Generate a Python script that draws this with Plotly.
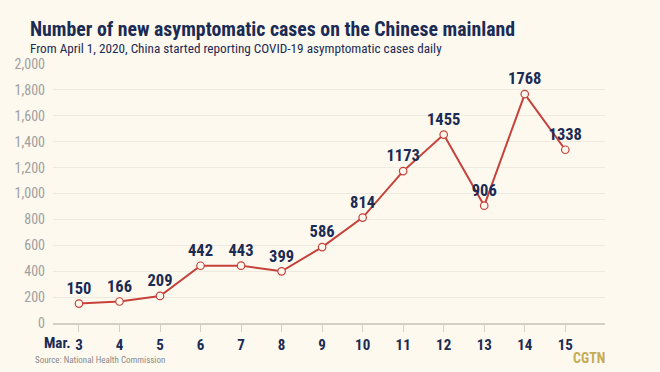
import plotly.graph_objects as go

days = [3, 4, 5, 6, 7, 8, 9, 10, 11, 12, 13, 14, 15]
day_labels = ["3", "4", "5", "6", "7", "8", "9", "10", "11", "12", "13", "14", "15"]
month_label = "Mar."
cases = [150, 166, 209, 442, 443, 399, 586, 814, 1173, 1455, 906, 1768, 1338]
y_ticks = [0, 200, 400, 600, 800, 1000, 1200, 1400, 1600, 1800, 2000]

BG = "#fdf9ef"
NAVY = "#1b2b54"
RED = "#c5413a"
FONT = "Roboto Condensed, DejaVu Sans Condensed, sans-serif"

W, H = 660, 372
L, R, T, B = 53, 55, 64, 49
PW, PH = W - L - R, H - T - B

fig = go.Figure()
fig.add_trace(go.Scatter(
    x=days, y=cases, mode="lines+markers+text",
    line=dict(color=RED, width=2),
    marker=dict(size=7.5, color=BG, line=dict(color=RED, width=1.2)),
    text=[str(v) for v in cases], textposition="top center",
    textfont=dict(family=FONT, size=16.5, color=NAVY, weight="bold"),
    cliponaxis=False, hoverinfo="skip",
))

fig.update_layout(
    width=W, height=H,
    paper_bgcolor=BG, plot_bgcolor=BG,
    margin=dict(l=L, r=R, t=T, b=B),
    showlegend=False,
    font=dict(family=FONT),
    xaxis=dict(
        range=[2.36, 15.98], tickvals=days, ticktext=day_labels,
        showgrid=False, zeroline=False, fixedrange=True,
        showline=True, linecolor="#d3d0c8", linewidth=2,
        ticks="outside", ticklen=7, tickcolor="#d3d0c8", tickwidth=1,
        tickfont=dict(family=FONT, size=15, color=NAVY, weight="bold"),
        ticklabelstandoff=0,
    ),
    yaxis=dict(
        range=[0, 2000], tickvals=y_ticks, tickformat=",", fixedrange=True,
        showgrid=True, gridcolor="#eeeadf", gridwidth=1,
        zeroline=False, showline=False,
        tickfont=dict(family=FONT, size=14, color="#a0a0a0"),
        ticklabelstandoff=7,
    ),
)


def px(x):
    return (x - L) / PW


def py(y):
    return (H - B - y) / PH


fig.add_annotation(
    x=px(28), y=py(29), xref="paper", yref="paper", xanchor="left", yanchor="middle",
    text="<b>Number of new asymptomatic cases on the Chinese mainland</b>",
    font=dict(family=FONT, size=19.8, color=NAVY), showarrow=False,
)
fig.add_annotation(
    x=px(28), y=py(48.5), xref="paper", yref="paper", xanchor="left", yanchor="middle",
    text="From April 1, 2020, China started reporting COVID-19 asymptomatic cases daily",
    font=dict(family=FONT, size=13.2, color=NAVY), showarrow=False,
)
fig.add_annotation(
    x=days[0], xref="x", y=py(343), yref="paper", xanchor="right", yanchor="middle",
    xshift=-6, text="<b>" + month_label + "</b>", showarrow=False,
    font=dict(family=FONT, size=15, color=NAVY),
)
fig.add_annotation(
    x=px(33), y=py(360), xref="paper", yref="paper", xanchor="left", yanchor="middle",
    text="Source: National Health Commission", showarrow=False,
    font=dict(family=FONT, size=9, color="#8a8a8a"),
)
fig.add_annotation(
    x=px(607), y=py(358), xref="paper", yref="paper", xanchor="right", yanchor="middle",
    text="<b>CGTN</b>", showarrow=False,
    font=dict(family=FONT, size=14, color="#c6ab55"),
)

fig.write_html("out.html", config={"displayModeBar": False},
               post_script="document.body.style.margin='0';")
